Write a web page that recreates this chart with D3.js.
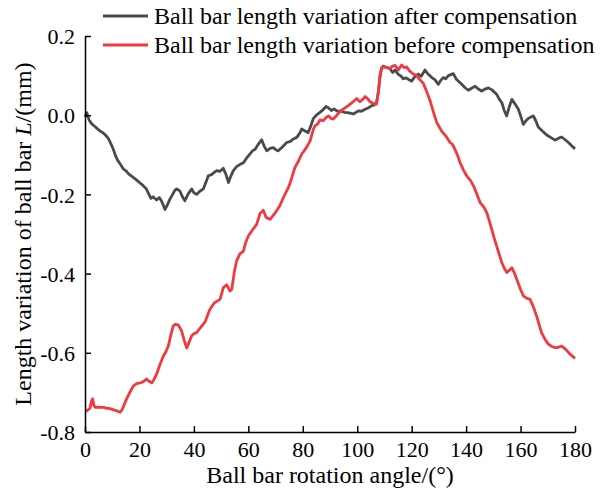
<!DOCTYPE html>
<html>
<head>
<meta charset="utf-8">
<script src="https://cdn.jsdelivr.net/npm/d3@7"></script>
<style>
  body { margin: 0; background: #fff; }
  text { font-family: "Liberation Serif", "Times New Roman", serif; fill: #000; }
</style>
</head>
<body>
<div id="chart"></div>
<script>
// ball bar length variation vs rotation angle
var afterAngle = [0,0.7,1.5,2.5,3.5,4.5,5.5,6.5,7.5,8.5,9.5,10.4,11.2,12,13,14.1,15,16,17.7,19,20,21.4,22.5,23.5,24.2,25,26.3,27.3,28.2,29.4,30.3,31.2,32.2,33,33.7,34.9,35.8,36.7,37.8,39.2,40,41,42.2,43.5,44.5,45.3,46.5,47.5,48.4,49.5,50.8,51.8,52.7,53.5,54.5,55.7,57,58.2,59.4,60.6,61.5,62.5,63.7,64.9,65.8,66.8,68,69.2,70.2,71,72.5,74.1,75.5,76.5,77.8,79,79.6,80.8,82,83,83.9,85,86.3,87.5,88.5,89.4,90.5,91.5,92.5,94,95.5,97,98.6,100.4,101.5,102.9,104,105.3,106.3,107.1,107.8,108.4,109,109.6,110.8,112,113,113.9,115,116.2,116.9,118,119.4,120,121,122.4,123.5,124.9,126,127.4,128.5,129.8,130.7,131.6,132.5,133.5,135.3,136.5,138.4,139.5,140.8,142,143.3,144.5,145.7,147,148.2,149.5,151.2,152.2,153.1,154,154.9,155.8,156.8,158,159.2,160.2,161,162,162.9,164,164.7,165.6,166.5,168,169.6,171,172.7,174,175.1,176.4,177.6,178.6,180];
var afterVal = [-0.004,0.006,-0.012,-0.022,-0.028,-0.034,-0.040,-0.044,-0.050,-0.058,-0.072,-0.086,-0.102,-0.114,-0.124,-0.136,-0.140,-0.148,-0.157,-0.164,-0.170,-0.178,-0.186,-0.200,-0.210,-0.206,-0.214,-0.208,-0.218,-0.238,-0.226,-0.212,-0.200,-0.190,-0.186,-0.192,-0.206,-0.216,-0.200,-0.186,-0.196,-0.200,-0.192,-0.186,-0.168,-0.153,-0.150,-0.144,-0.140,-0.142,-0.134,-0.150,-0.170,-0.155,-0.140,-0.130,-0.124,-0.120,-0.108,-0.098,-0.090,-0.086,-0.073,-0.062,-0.078,-0.090,-0.084,-0.082,-0.088,-0.090,-0.080,-0.069,-0.066,-0.060,-0.056,-0.044,-0.035,-0.040,-0.044,-0.026,-0.008,0.000,0.007,0.014,0.022,0.019,0.012,0.016,0.011,0.010,0.007,0.006,0.003,0.011,0.010,0.015,0.018,0.024,0.026,0.032,0.060,0.100,0.120,0.124,0.120,0.118,0.108,0.114,0.104,0.098,0.092,0.094,0.088,0.086,0.096,0.104,0.098,0.114,0.104,0.095,0.090,0.078,0.088,0.095,0.092,0.100,0.105,0.090,0.078,0.070,0.063,0.068,0.073,0.066,0.061,0.066,0.069,0.064,0.053,0.040,0.032,0.012,-0.002,0.020,0.040,0.028,0.015,-0.005,-0.023,-0.014,-0.008,-0.004,-0.002,-0.014,-0.030,-0.040,-0.050,-0.056,-0.063,-0.058,-0.055,-0.062,-0.069,-0.076,-0.085];

var beforeAngle = [0,0.8,1.8,2.4,2.8,3.3,3.8,5,6.7,8,9.2,10.5,11.5,12.9,13.6,14.1,15.3,16.5,17.7,19,20.8,22,22.6,23.5,24.5,25.3,26.3,27.5,28.8,29.8,30.6,31.5,32.4,33.3,34.3,35.5,36.5,37.4,38.3,39.2,40,41,42.5,44.1,45,45.9,47.5,49.6,50.8,52,53.3,53.9,55,55.7,56.9,58.2,59,60,61.5,63.1,64.3,65.5,66.5,68,69.5,70.5,71.6,73,74.7,75.5,77.1,78.5,79.6,80.5,81.5,82.7,83.9,84.5,85.5,86.3,87.5,88.5,89.5,90.3,91.2,92.5,93.7,95,96.7,97.8,98.8,99.8,101,102,102.9,103.8,104.7,105.8,107.1,107.8,108.4,109,110,111,112,113,113.9,115.1,116.3,117.2,118.1,119.2,120.6,121.9,123,124.3,125.5,126.7,128,129.2,130,131,132.5,134.1,135,135.9,137,137.8,139,140.2,141.5,142.7,144,145.1,146.5,147.6,148.5,149.4,150.3,151.2,152.2,153.1,154,154.9,155.8,156.8,157.7,158.6,160,161,162.2,163.5,164.7,165.9,166.8,167.7,169,170.2,171.5,172.7,174,175.1,176.4,177.6,178.6,180];
var beforeVal = [-0.748,-0.746,-0.740,-0.722,-0.716,-0.734,-0.738,-0.737,-0.738,-0.740,-0.741,-0.744,-0.746,-0.750,-0.744,-0.736,-0.716,-0.700,-0.684,-0.678,-0.675,-0.670,-0.666,-0.672,-0.676,-0.668,-0.654,-0.630,-0.608,-0.596,-0.583,-0.556,-0.532,-0.528,-0.530,-0.545,-0.570,-0.588,-0.572,-0.557,-0.552,-0.549,-0.536,-0.522,-0.506,-0.490,-0.474,-0.465,-0.436,-0.428,-0.444,-0.440,-0.390,-0.368,-0.350,-0.343,-0.322,-0.305,-0.290,-0.275,-0.248,-0.240,-0.258,-0.263,-0.250,-0.240,-0.228,-0.206,-0.183,-0.168,-0.132,-0.115,-0.098,-0.090,-0.080,-0.065,-0.035,-0.027,-0.022,-0.012,-0.014,-0.006,-0.002,-0.008,-0.010,0.000,0.010,0.016,0.024,0.030,0.036,0.042,0.034,0.040,0.047,0.042,0.034,0.030,0.028,0.060,0.100,0.120,0.122,0.120,0.118,0.124,0.126,0.114,0.127,0.120,0.122,0.112,0.104,0.100,0.090,0.080,0.060,0.038,0.008,-0.018,-0.028,-0.040,-0.052,-0.069,-0.074,-0.086,-0.104,-0.120,-0.138,-0.153,-0.164,-0.178,-0.200,-0.220,-0.232,-0.246,-0.266,-0.288,-0.310,-0.330,-0.352,-0.372,-0.386,-0.397,-0.392,-0.385,-0.398,-0.414,-0.440,-0.456,-0.462,-0.465,-0.484,-0.507,-0.528,-0.549,-0.566,-0.578,-0.584,-0.587,-0.586,-0.583,-0.590,-0.599,-0.606,-0.614];

var xTicks = [0,20,40,60,80,100,120,140,160,180];
var yTicks = [-0.8,-0.6,-0.4,-0.2,0.0,0.2];
var seriesNames = ["Ball bar length variation after compensation",
                   "Ball bar length variation before compensation"];
var seriesColors = ["#4a4a4a", "#ef3b3f"];

var width = 606, height = 503;
var margin = {left: 85, right: 31, top: 36, bottom: 71};

var svg = d3.select("#chart").append("svg")
    .attr("width", width)
    .attr("height", height);

var x = d3.scaleLinear().domain([0, 180]).range([margin.left, width - margin.right]);
var y = d3.scaleLinear().domain([-0.8, 0.2]).range([height - margin.bottom, margin.top]);

var line = d3.line()
    .x(function(d) { return x(d[0]); })
    .y(function(d) { return y(d[1]); });

var series = [d3.zip(afterAngle, afterVal), d3.zip(beforeAngle, beforeVal)];

series.forEach(function(s, i) {
  svg.append("path")
     .datum(s)
     .attr("fill", "none")
     .attr("stroke", seriesColors[i])
     .attr("stroke-width", 2.8)
     .attr("stroke-linejoin", "round")
     .attr("d", line);
});

// plain hyphen for negatives, like the original figure
var yFmt = function(d) { return d3.format(".1f")(d).replace("\u2212", "-"); };

// axes, ticks point inward
var xAxis = svg.append("g")
    .attr("transform", "translate(0," + y(-0.8) + ")")
    .call(d3.axisBottom(x).tickValues(xTicks).tickSizeInner(-6).tickSizeOuter(0).tickPadding(10)
          .tickFormat(d3.format("d")));
var yAxis = svg.append("g")
    .attr("transform", "translate(" + x(0) + ",0)")
    .call(d3.axisLeft(y).tickValues(yTicks).tickSizeInner(-6).tickSizeOuter(0).tickPadding(10)
          .tickFormat(yFmt));

[xAxis, yAxis].forEach(function(a) {
  a.select(".domain").attr("stroke", "#000").attr("stroke-width", 1.5);
  a.selectAll(".tick line").attr("stroke", "#000").attr("stroke-width", 1.5);
  a.selectAll(".tick text")
   .style("font-family", "Liberation Serif")
   .style("font-size", "22px")
   .attr("fill", "#000");
});
xAxis.selectAll(".tick text").attr("dy", "0.75em").attr("y", 8);
yAxis.selectAll(".tick text").attr("dy", "0.35em");

// axis titles
svg.append("text")
   .attr("x", (x(0) + x(180)) / 2)
   .attr("y", 483)
   .attr("text-anchor", "middle")
   .style("font-size", "24px")
   .text("Ball bar rotation angle/(°)");

var yl = svg.append("text")
   .attr("transform", "translate(31," + ((y(0.2) + y(-0.8)) / 2) + ") rotate(-90)")
   .attr("text-anchor", "middle")
   .style("font-size", "24px");
yl.append("tspan").text("Length variation of ball bar ");
yl.append("tspan").style("font-style", "italic").text("L");
yl.append("tspan").text("/(mm)");

// legend
var legend = svg.append("g");
seriesNames.forEach(function(name, i) {
  var ly = 16 + i * 29;
  legend.append("line")
     .attr("x1", 103).attr("x2", 148)
     .attr("y1", ly).attr("y2", ly)
     .attr("stroke", seriesColors[i])
     .attr("stroke-width", 2.8);
  legend.append("text")
     .attr("x", 154)
     .attr("y", ly + 8)
     .style("font-size", "24px")
     .text(name);
});
</script>
</body>
</html>
